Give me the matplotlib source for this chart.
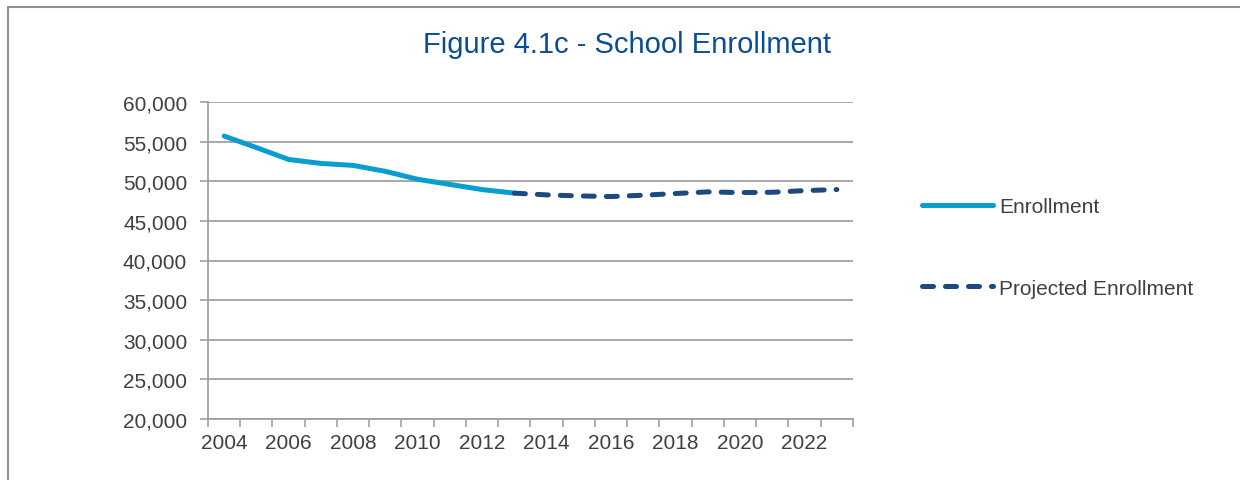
import numpy as np
import matplotlib.pyplot as plt
from matplotlib.patches import Rectangle
from matplotlib.ticker import FuncFormatter


plt.rcParams['font.family'] = ['Liberation Sans', 'DejaVu Sans']

years_actual = [2004, 2005, 2006, 2007, 2008, 2009, 2010, 2011, 2012, 2013]
enrollment = [55700, 54250, 52750, 52250, 52000, 51250, 50250, 49600, 48950, 48500]

years_proj = [2013, 2014, 2015, 2016, 2017, 2018, 2019, 2020, 2021, 2022, 2023]
projected = [48500, 48280, 48150, 48070, 48240, 48450, 48660, 48570, 48610,
             48820, 48950]

label_years = list(range(2004, 2023, 2))

grid_col = '#a0a0a0'
text_col = '#404040'

fig = plt.figure(figsize=(12.4, 4.81), dpi=100)
ax = fig.add_axes([208 / 1240, 61 / 481, 645 / 1240, 317 / 481])

ax.plot(years_actual, enrollment, color='#0a9dd0', linewidth=3.6,
        solid_capstyle='round', label='Enrollment', zorder=3)
ax.plot(years_proj, projected, color='#1c4a80', linewidth=3.6,
        dashes=(2.2, 2.4), dash_capstyle='round',
        label='Projected Enrollment', zorder=4)

ax.set_xlim(2003.5, 2023.5)
ax.set_ylim(20000, 60000)
ax.set_yticks(np.arange(20000, 60001, 5000))
ax.yaxis.set_major_formatter(FuncFormatter(lambda v, p: f'{int(v):,}'))
ax.grid(axis='y', color=grid_col, linewidth=1.3)
ax.set_axisbelow(True)

# category labels in the middle, tick marks on the boundaries
ax.set_xticks(label_years)
ax.set_xticks(np.arange(2003.5, 2024, 1), minor=True)
ax.tick_params(axis='x', which='major', length=0, pad=10, labelsize=15,
               labelcolor=text_col)
ax.tick_params(axis='x', which='minor', length=6, width=1.2, color=grid_col,
               direction='out')
ax.tick_params(axis='y', length=6, width=1.2, color=grid_col, pad=9,
               labelsize=15, labelcolor=text_col)

for side in ('top', 'right'):
    ax.spines[side].set_visible(False)
for side in ('left', 'bottom'):
    ax.spines[side].set_color(grid_col)
    ax.spines[side].set_linewidth(1.3)

fig.text(627 / 1240, 1 - 45 / 481, 'Figure 4.1c - School Enrollment',
         ha='center', va='center', fontsize=21, color='#0b4c98')

fig.legend(loc='center left', bbox_to_anchor=(922 / 1240, 1 - 248.5 / 481),
           frameon=False, fontsize=15, handlelength=3.4, handletextpad=0.3,
           labelspacing=3.0, borderpad=0, borderaxespad=0,
           labelcolor=text_col)

fig.add_artist(Rectangle((8 / 1240, -0.5), 2.0, 1.5 - 8 / 481,
                         transform=fig.transFigure, fill=False,
                         edgecolor='#909090', linewidth=1.5))

fig.savefig('out.png', dpi=100)
